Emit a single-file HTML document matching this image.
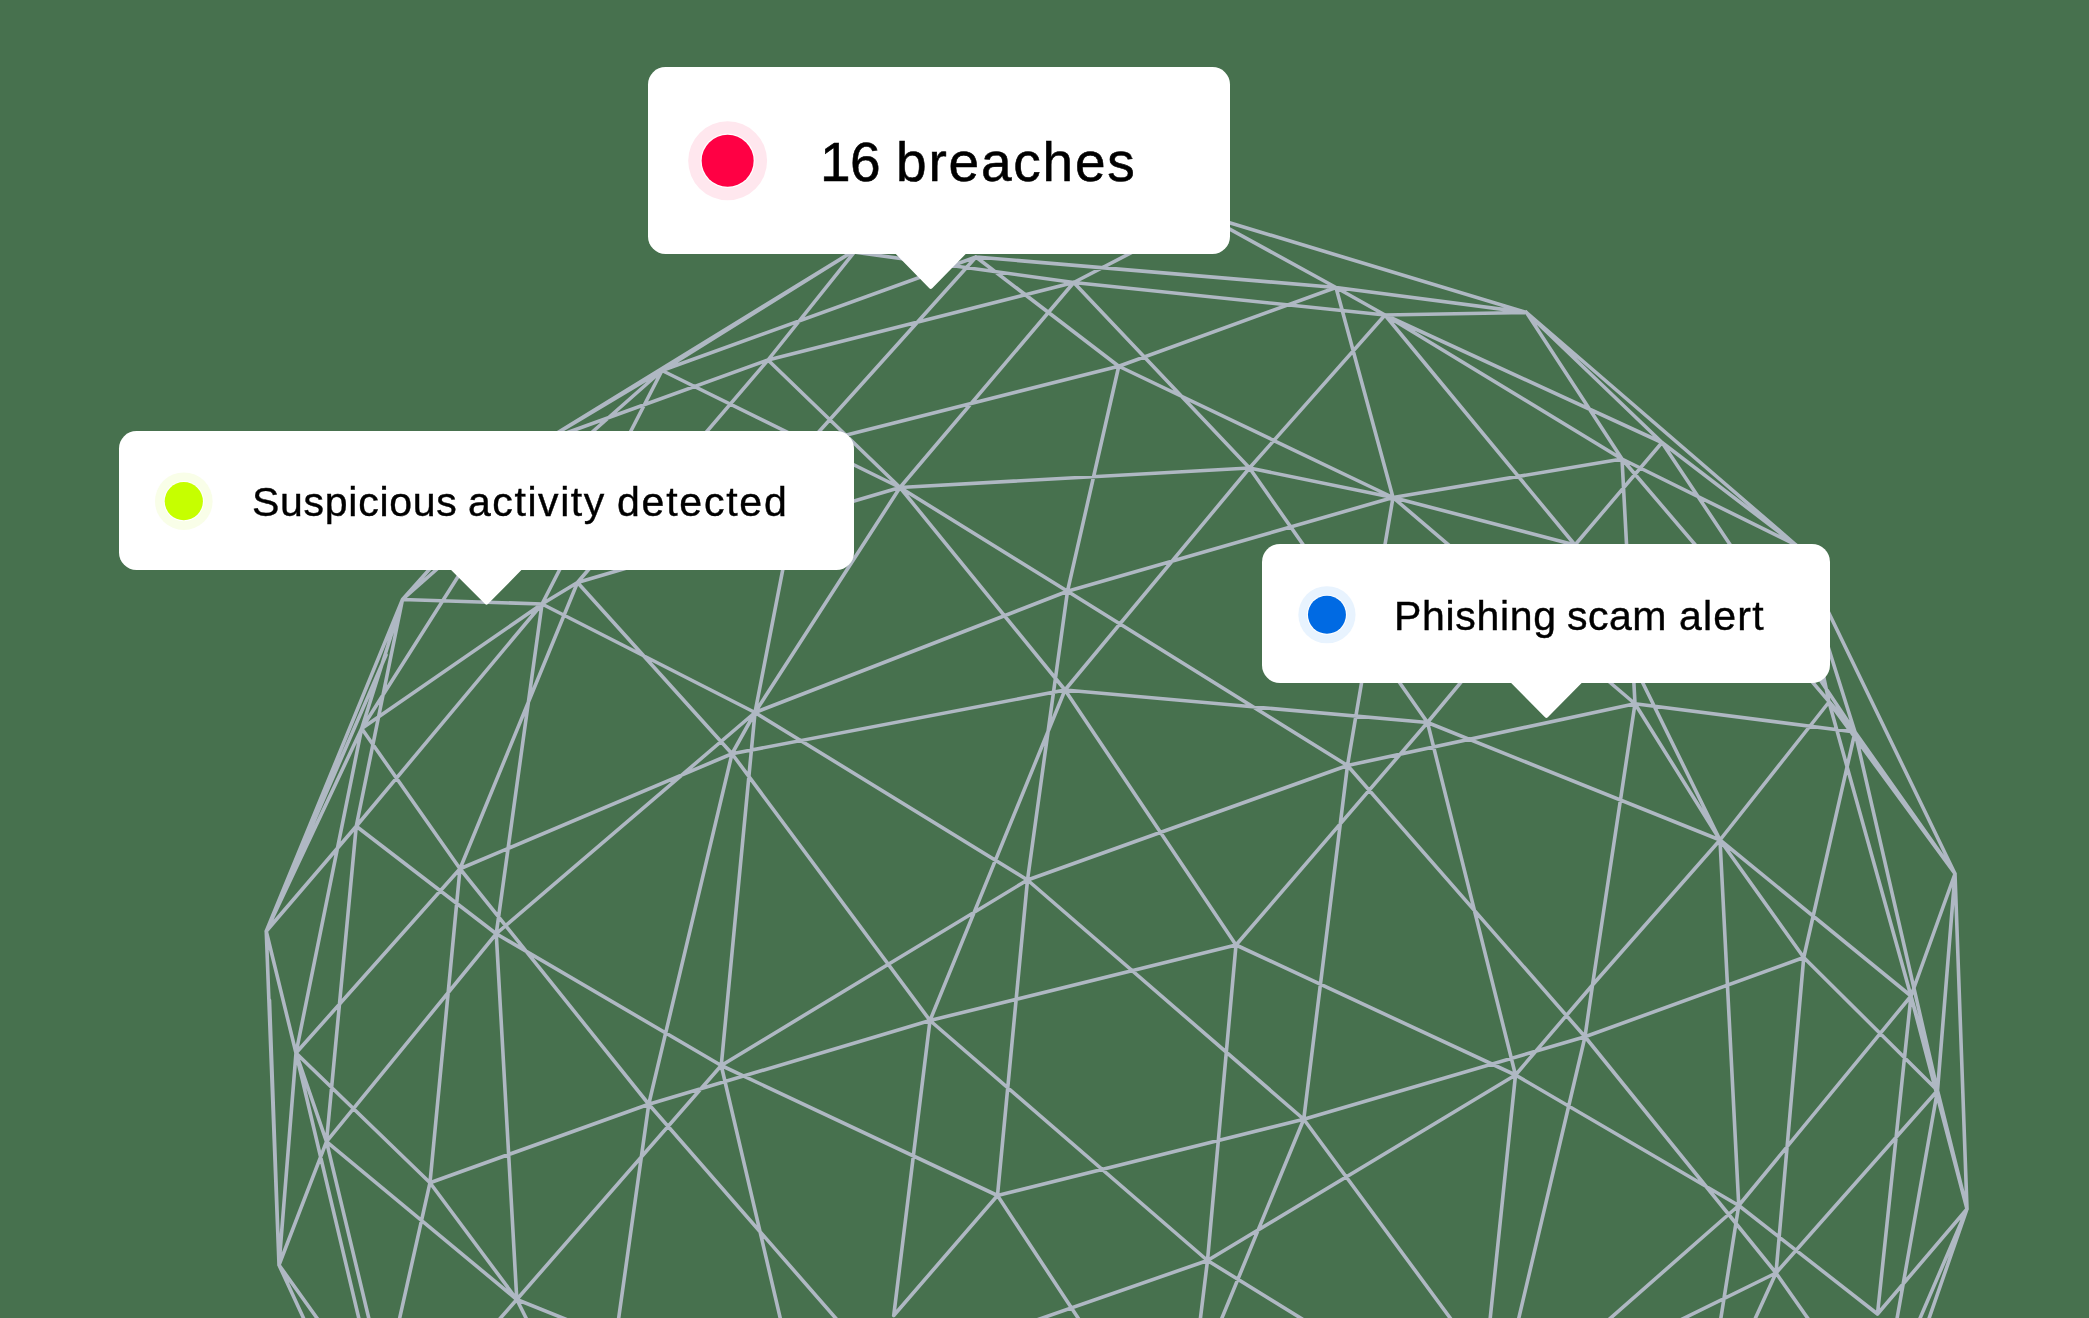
<!DOCTYPE html>
<html><head><meta charset="utf-8"><title>Alerts</title>
<style>
html,body{margin:0;padding:0;}
body{width:2089px;height:1318px;background:#47714e;overflow:hidden;position:relative;font-family:"Liberation Sans",sans-serif;}
svg.wire{position:absolute;left:0;top:0;}
.card{position:absolute;background:#fff;}
.txt{position:absolute;color:#000;will-change:transform;white-space:nowrap;line-height:1;}
.dot{position:absolute;border-radius:50%;}
svg.ov{position:absolute;left:0;top:0;}
</style></head>
<body>
<svg class="wire" width="2089" height="1318" viewBox="0 0 2089 1318"><path d="M856.8 249L662 370.5M856.8 249L544 441M976 257L662 370.5M850 251.5L1073.75 282.5M1073.75 282.5L768 360M768 360L544 441M856.8 249L768 360M768 360L577.5 582.5M662 370.5L900 487.5M768 360L900 487.5M976 257L807 445M1073.75 282.5L900 487.5M900 487.5L755 712.5M807 445L1118.75 366.25M900 487.5L1249.5 468M900 487.5L577.5 582.5M900 487.5L1067.5 591.25M900 487.5L1065 690M976 257L1118.75 366.25M976 257L1336 287.5M662 370.5L544 441M662 370.5L402.5 599.5M662 370.5L542 604M807 445L755 712.5M1204 215L1526.5 312.5M1204 215L1336 287.5M1204 215L1073.75 282.5M1336 287.5L1385 315M1385 315L1662 442.5M1385 315L1622 459M1385 315L1575 545M1073.75 282.5L1385 315M1336 287.5L1526.5 312.5M1385 315L1526.5 312.5M1073.75 282.5L1249.5 468M1118.75 366.25L1336 287.5M1118.75 366.25L1067.5 591.25M1118.75 366.25L1393 497.5M1249.5 468L1385 315M1249.5 468L1065 690M1249.5 468L1427.5 722.5M1249.5 468L1393 497.5M1336 287.5L1393 497.5M1393 497.5L1622 459M1393 497.5L1347.5 765.5M1393 497.5L1635 703.75M1393 497.5L1575 545M1067.5 591.25L1393 497.5M1526.5 312.5L1622 459M1526.5 312.5L1662 442.5M1526.5 312.5L1796 545M1662 442.5L1796 545M1622 459L1796 545M1622 459L1635 703.75M1622 459L1855 732M1662 442.5L1855 732M1662 442.5L1575 545M1575 545L1720 840M1575 545L1427.5 722.5M1635 703.75L1855 732M1635 703.75L1720 840M1635 703.75L1592.5 985M1635 703.75L1347.5 765.5M1427.5 722.5L1720 840M1720 840L1829 702M1829 702L1796 545M1829 702L1855 732M1796 545L1855 732M1796 545L1955 873.75M1720 840L1592.5 985M1720 840L1738.75 1205.5M1720 840L1803.75 957.5M1720 840L1911 996M1855 732L1803.75 957.5M1855 732L1955 873.75M1829 702L1911 996M1829 702L1955 873.75M1855 732L1937.5 1090.5M1955 873.75L1911 996M1955 873.75L1937.5 1090.5M1955 873.75L1967 1209M1803.75 957.5L1585 1036.75M1803.75 957.5L1776 1273M1803.75 957.5L1937.5 1090.5M1911 996L1738.75 1205.5M1911 996L1877.5 1314M1911 996L1937.5 1090.5M1911 996L1967 1209M1937.5 1090.5L1967 1209M1937.5 1090.5L1776 1273M1967 1209L1877.5 1314M1592.5 985L1585 1036.75M1592.5 985L1515.5 1075M1427.5 722.5L1515.5 1075M1427.5 722.5L1236 945M1427.5 722.5L1065 690M1347.5 765.5L1585 1036.75M1347.5 765.5L1027.5 880M1347.5 765.5L1067.5 591.25M1347.5 765.5L1303.75 1119.25M1236 945L1065 690M1236 945L930 1020.5M1236 945L1207.5 1260.5M1236 945L1515.5 1075M1515.5 1075L1738.75 1205.5M1515.5 1075L1207.5 1260.5M1585 1036.75L1303.75 1119.25M1585 1036.75L1776 1273M1738.75 1205.5L1877.5 1314M1303.75 1119.25L1027.5 880M1303.75 1119.25L997.5 1195.5M1207.5 1260.5L930 1020.5M1027.5 880L755 712.5M1027.5 880L721.25 1065.5M1027.5 880L1067.5 591.25M1027.5 880L997.5 1195.5M930 1020.5L1065 690M930 1020.5L732 753.75M930 1020.5L648.75 1104.25M930 1020.5L893.75 1315.5M997.5 1195.5L721.25 1065.5M997.5 1195.5L893.75 1315.5M721.25 1065.5L755 712.5M721.25 1065.5L496.25 933.75M721.25 1065.5L516.8 1299.5M648.75 1104.25L732 753.75M648.75 1104.25L460 868.75M648.75 1104.25L430 1182.7M732 753.75L577.5 582.5M732 753.75L755 712.5M732 753.75L1065 690M732 753.75L460 868.75M755 712.5L542 604M755 712.5L1067.5 591.25M755 712.5L496.25 933.75M496.25 933.75L542 604M496.25 933.75L356.25 826.25M496.25 933.75L326.5 1141.6M496.25 933.75L516.8 1299.5M460 868.75L577.5 582.5M460 868.75L361.7 728.5M460 868.75L296 1053M460 868.75L430 1182.7M356.25 826.25L542 604M356.25 826.25L402.5 599.5M356.25 826.25L266.25 931.25M356.25 826.25L326.5 1141.6M361.7 728.5L542 604M361.7 728.5L402.5 599.5M361.7 728.5L544 441M361.7 728.5L266.25 931.25M361.7 728.5L296 1053M402.5 599.5L542 604M402.5 599.5L266.25 931.25M402.5 599.5L544 441M542 604L577.5 582.5M266.25 931.25L296 1053M266.25 931.25L279 1265M296 1053L326.5 1141.6M296 1053L279 1265M296 1053L430 1182.7M326.5 1141.6L279 1265M326.5 1141.6L516.8 1299.5M430 1182.7L516.8 1299.5M266.25 931.25L386 655M279 1265L269.5 1000M1937.5 1090.5L1895 1330M1967 1209L1915 1330M1967 1209L1925 1330M1515.5 1075L1489 1330M1585 1036.75L1516 1330M1738.75 1205.5L1597 1330M1738.75 1205.5L1719 1330M1776 1273L1660 1330M1776 1273L1750 1330M1776 1273L1816 1330M1303.75 1119.25L1459 1330M1303.75 1119.25L1217 1330M1207.5 1260.5L1008 1330M1207.5 1260.5L1320 1330M1207.5 1260.5L1199 1330M997.5 1195.5L1086 1330M721.25 1065.5L783 1330M648.75 1104.25L846 1330M648.75 1104.25L617 1330M430 1182.7L397 1330M326.5 1141.6L371.6 1330M296 1053L361.6 1330M279 1265L309 1330M279 1265L325.5 1330M516.8 1299.5L490 1330M516.8 1299.5L532 1330M516.8 1299.5L600 1333" fill="none" stroke="#afb8c3" stroke-width="3.6" stroke-linecap="round"/></svg>

<div class="card" style="left:647.75px;top:66.8px;width:582.25px;height:187.7px;border-radius:17.5px;"></div>
<div class="card" style="left:118.8px;top:430.8px;width:735.35px;height:139.4px;border-radius:17.5px;"></div>
<div class="card" style="left:1261.8px;top:544.3px;width:568.2px;height:139px;border-radius:18px;"></div>

<svg class="ov" width="2089" height="1318" viewBox="0 0 2089 1318">
 <path d="M894.3 252.5 L967.2 252.5 L965.2 254.4 L932.2 288.3 Q930.75 289.8 929.3 288.3 L896.3 254.4 Z" fill="#fff"/>
 <path d="M449.1 568.2 L523.4 568.2 L521.4 570.1 L487.9 604.1 Q486.5 605.6 485.1 604.1 L451.1 570.1 Z" fill="#fff"/>
 <path d="M1509.4 681.3 L1583.4 681.3 L1581.4 683.3 L1547.8 717.3 Q1546.4 718.8 1545 717.3 L1511.4 683.3 Z" fill="#fff"/>
 <circle cx="727.65" cy="160.8" r="39.45" fill="#ffe7ee"/>
 <circle cx="727.65" cy="160.8" r="27.2" fill="#fff"/>
 <circle cx="727.65" cy="160.8" r="26" fill="#ff0044"/>
 <circle cx="183.8" cy="501.2" r="28.8" fill="#f9fee8"/>
 <circle cx="183.8" cy="501.2" r="20.1" fill="#fff"/>
 <circle cx="183.8" cy="501.2" r="19.1" fill="#c6ff00"/>
 <circle cx="1326.95" cy="614.75" r="28.6" fill="#e8f3fe"/>
 <circle cx="1326.95" cy="614.75" r="20" fill="#fff"/>
 <circle cx="1326.95" cy="614.75" r="19" fill="#006ae3"/>
</svg>

<div class="txt" style="left:819.61px;top:134.6px;font-size:55px;letter-spacing:-0.48px;-webkit-text-stroke:0.55px #000;">16</div>
<div class="txt" style="left:895.84px;top:134.6px;font-size:55px;letter-spacing:1.80px;-webkit-text-stroke:0.55px #000;">breaches</div>
<div class="txt" style="left:251.90px;top:482px;font-size:41px;letter-spacing:0.73px;-webkit-text-stroke:0.4px #000;">Suspicious</div>
<div class="txt" style="left:467.50px;top:482px;font-size:41px;letter-spacing:1.57px;-webkit-text-stroke:0.4px #000;">activity</div>
<div class="txt" style="left:616.50px;top:482px;font-size:41px;letter-spacing:1.78px;-webkit-text-stroke:0.4px #000;">detected</div>
<div class="txt" style="left:1394.02px;top:596px;font-size:41px;letter-spacing:0.68px;-webkit-text-stroke:0.4px #000;">Phishing</div>
<div class="txt" style="left:1567.31px;top:596px;font-size:41px;letter-spacing:0.48px;-webkit-text-stroke:0.4px #000;">scam</div>
<div class="txt" style="left:1678.84px;top:596px;font-size:41px;letter-spacing:1.22px;-webkit-text-stroke:0.4px #000;">alert</div>
</body></html>
